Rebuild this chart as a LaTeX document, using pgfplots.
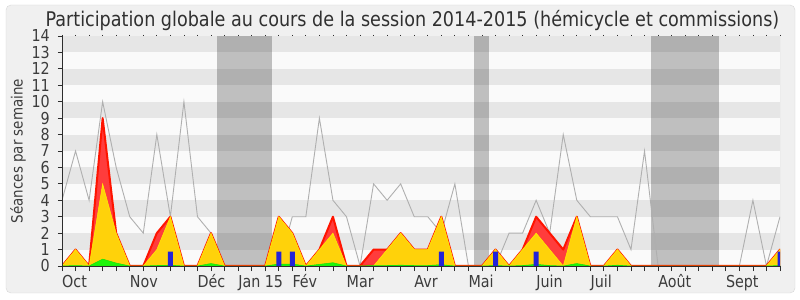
\documentclass[border=0pt]{standalone}
\usepackage{fontspec}
\setmainfont{DejaVu Sans}[FakeStretch=0.87]
\usepackage{pgfplots}
\usepackage{pgfplotstable}
\pgfplotsset{compat=1.18}
\definecolor{framebg}{RGB}{240,240,240}
\definecolor{frameline}{RGB}{215,215,215}
\definecolor{plotbg}{RGB}{250,250,250}
\definecolor{bandc}{RGB}{191,191,191}
\definecolor{medc}{RGB}{175,175,175}
\definecolor{redl}{RGB}{255,20,0}
\definecolor{redf}{RGB}{255,60,60}
\definecolor{yelf}{RGB}{255,210,10}
\definecolor{yell}{RGB}{255,240,0}
\definecolor{grnf}{RGB}{30,245,10}
\definecolor{grnl}{RGB}{20,225,10}
\definecolor{bluec}{RGB}{35,35,215}
\definecolor{axc}{RGB}{45,45,45}
\definecolor{labc}{RGB}{60,60,60}
\pgfplotstableread{
i G Y R Gr B
0 4 0 0 0 0
1 7 1 1 0.03 0
2 4 0 0 0 0
3 10 5 9 0.42 0
4 6 2 2 0.18 0
5 3 0 0 0 0
6 2 0 0 0 0
7 8 1 2 0.03 0
8 3 3 3 0.05 0.87
9 10 0 0 0 0
10 3 0 0 0 0
11 2 2 2 0.15 0
12 0 0 0 0 0
13 0 0 0 0 0
14 0 0 0 0 0
15 0 0 0 0 0
16 0 3 3 0.12 0.87
17 3 2 2 0.12 0.87
18 3 0 0 0 0
19 9 1 1 0.1 0
20 4 2 3 0.2 0
21 3 0 0 0 0
22 0 0 0 0 0
23 5 0 1 0.03 0
24 4 1 1 0.03 0
25 5 2 2 0.05 0
26 3 1 1 0.03 0
27 3 1 1 0.03 0
28 2 3 3 0.08 0.87
29 5 0 0 0 0
30 0 0 0 0 0
31 0 0 0 0 0
32 0 1 1 0.03 0.87
33 2 0 0 0 0
34 2 1 1 0.03 0
35 4 2 3 0.1 0.87
36 2 1 2 0.03 0
37 8 0 1 0 0
38 4 3 3 0.15 0
39 3 0 0 0 0
40 3 0 0 0 0
41 3 1 1 0.05 0
42 1 0 0 0 0
43 7 0 0 0 0
44 0 0 0 0 0
45 0 0 0 0 0
46 0 0 0 0 0
47 0 0 0 0 0
48 0 0 0 0 0
49 0 0 0 0 0
50 0 0 0 0 0
51 4 0 0 0 0
52 0 0 0 0 0
53 3 1 1 0.03 0.87
}\data
\begin{document}
\begin{tikzpicture}
\fill[white] (0,0) rectangle (800bp,300bp);
\filldraw[fill=framebg, draw=frameline, rounded corners=5bp] (6bp,7bp) rectangle (795bp,295bp);
\begin{axis}[
  at={(62bp,34bp)}, anchor=south west,
  scale only axis, width=718bp, height=230bp,
  xmin=0, xmax=53, ymin=0, ymax=14,
  axis x line*=bottom, axis y line*=left,
  axis line style={draw=axc, line width=0.9bp},
  axis on top,
  xtick={0,...,53}, xticklabels={},
  ytick={0,...,14},
  tick align=outside,
  x tick style={draw=axc, line width=0.8bp, /pgfplots/major tick length=5bp},
  y tick style={draw=axc, line width=0.8bp, /pgfplots/major tick length=4bp},
  /pgf/number format/assume math mode=true,
  yticklabel style={font=\fontsize{16.5}{16.5}\selectfont, text=labc, xshift=-4.5bp},
  extra x ticks={0,5,10,13,17,21,26,30,35,39,44,49},
  extra x tick labels={Oct,Nov,Déc,Jan 15,Fév,Mar,Avr,Mai,Juin,Juil,Août,Sept},
  extra x tick style={x tick style={draw=none}, xticklabel style={anchor=base west, inner sep=0pt, yshift=-17.3bp, font=\fontsize{16.5}{16.5}\selectfont, text=labc}},
  ylabel={Séances par semaine},
  ylabel style={at={(axis description cs:0,0.5)}, anchor=center, yshift=44bp, font=\fontsize{15.5}{15.5}\selectfont, text=labc},
  title={Participation globale au cours de la session 2014-2015 (hémicycle et commissions)},
  title style={at={(axis description cs:0.5,1)}, anchor=base, yshift=3.3bp, xshift=-8.6bp, font=\fontsize{20.3}{20.3}\selectfont, text=labc!80!black},
]
\fill[plotbg] (axis cs:0,0) rectangle (axis cs:53,14);
\fill[bandc] (axis cs:11.45,0) rectangle (axis cs:15.47,14);
\fill[bandc] (axis cs:30.4,0) rectangle (axis cs:31.5,14);
\fill[bandc] (axis cs:43.47,0) rectangle (axis cs:48.5,14);
\fill[black, opacity=0.08] (axis cs:0,1) rectangle (axis cs:53,2);
\fill[black, opacity=0.08] (axis cs:0,3) rectangle (axis cs:53,4);
\fill[black, opacity=0.08] (axis cs:0,5) rectangle (axis cs:53,6);
\fill[black, opacity=0.08] (axis cs:0,7) rectangle (axis cs:53,8);
\fill[black, opacity=0.08] (axis cs:0,9) rectangle (axis cs:53,10);
\fill[black, opacity=0.08] (axis cs:0,11) rectangle (axis cs:53,12);
\fill[black, opacity=0.08] (axis cs:0,13) rectangle (axis cs:53,14);
\addplot[medc, line width=0.9bp, mark=none] table[x=i,y=G]{\data};
\addplot[draw=redl, fill=redf, line width=2bp, mark=none, line join=round] table[x=i,y=R]{\data} \closedcycle;
\addplot[draw=yell, fill=yelf, line width=0.5bp, mark=none] table[x=i,y=Y]{\data} \closedcycle;
\addplot[draw=grnl, fill=grnf, line width=0.5bp, mark=none] table[x=i,y=Gr]{\data} \closedcycle;
\addplot[ybar, bar width=5bp, fill=bluec, draw=none] table[x=i,y=B]{\data};
\draw[frameline, line width=0.8bp] (axis cs:53,0) -- (axis cs:53,14);
\end{axis}
\begin{axis}[
  at={(62bp,34bp)}, anchor=south west,
  scale only axis, width=718bp, height=230bp,
  xmin=0, xmax=53, ymin=0, ymax=14,
  axis x line*=top, hide y axis,
  x axis line style={draw=none},
  xtick={0,...,53}, xticklabels={},
  tick align=outside,
  x tick style={draw=axc, line width=0.8bp, /pgfplots/major tick length=1.2bp},
]
\addplot[draw=none] coordinates {(0,0)};
\end{axis}
\end{tikzpicture}
\end{document}
